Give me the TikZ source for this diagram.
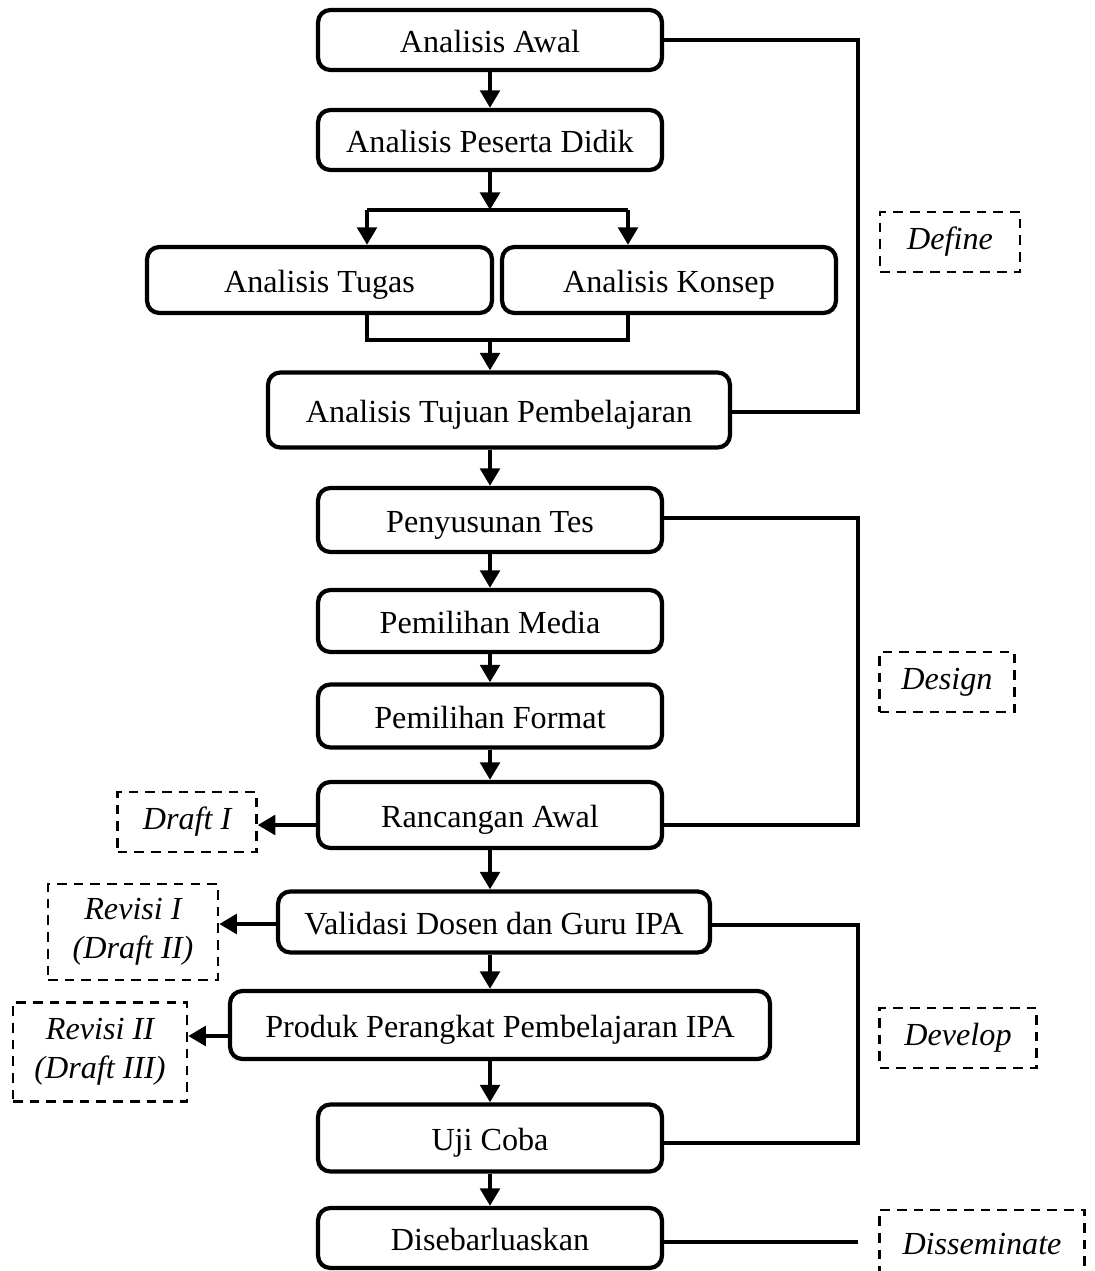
\documentclass[tikz,border=0pt]{standalone}
\usepackage{fontspec}
\setmainfont{Liberation Serif}
\usetikzlibrary{arrows.meta}

\begin{document}
\begin{tikzpicture}[x=0.02cm,y=-0.02cm]
\tikzstyle{every node}+=[font=\fontsize{18.3}{22}\selectfont, inner sep=0pt]
\tikzstyle{tahap}=[draw, line width=2.4pt, rounded corners=7pt, minimum width=6.88cm, minimum height=1.2cm, text height=14pt, text depth=0pt]
\tikzstyle{fase}=[draw, line width=1.4pt, dash pattern=on 5.5pt off 4pt, align=center, font=\fontsize{18.3}{22}\selectfont\itshape]
\tikzstyle{panah}=[line width=2.8pt, -{Triangle[length=10pt,width=11pt]}]
\tikzstyle{garis}=[line width=2.4pt]
\useasboundingbox (0,0) rectangle (1095,1271);
\node [tahap] (aw) at (490,40) {Analisis Awal};
\node [tahap] (pd) at (490,140) {Analisis Peserta Didik};
\node [tahap, minimum width=6.9cm, minimum height=1.32cm] (tg) at (319.5,280) {Analisis Tugas};
\node [tahap, minimum width=6.68cm, minimum height=1.32cm] (ks) at (669,280) {Analisis Konsep};
\node [tahap, minimum width=9.24cm, minimum height=1.5cm] (tj) at (499,410) {Analisis Tujuan Pembelajaran};
\node [tahap, minimum height=1.28cm] (tes) at (490,520) {Penyusunan Tes};
\node [tahap, minimum height=1.24cm] (med) at (490,621) {Pemilihan Media};
\node [tahap, minimum height=1.26cm] (fmt) at (490,716) {Pemilihan Format};
\node [tahap, minimum height=1.32cm] (rc) at (490,815) {Rancangan Awal};
\node [tahap, minimum width=8.64cm, minimum height=1.22cm] (val) at (494,922) {Validasi Dosen dan Guru IPA};
\node [tahap, minimum width=10.8cm, minimum height=1.36cm] (prd) at (500,1025) {Produk Perangkat Pembelajaran IPA};
\node [tahap, minimum height=1.34cm] (uji) at (490,1138) {Uji Coba};
\node [tahap] (sb) at (490,1238) {Disebarluaskan};
\node [fase, minimum width=2.8cm, minimum height=1.2cm] (def) at (950,242) {Define};
\node [fase, minimum width=2.7cm, minimum height=1.2cm] (des) at (947,682) {Design};
\node [fase, minimum width=3.14cm, minimum height=1.2cm] (dev) at (958,1038) {Develop};
\node [fase, minimum width=4.1cm, minimum height=1.36cm] (dis) at (982,1244) {Disseminate};
\node [fase, minimum width=2.78cm, minimum height=1.2cm] (dr1) at (187,822) {Draft I};
\node [fase, minimum width=3.4cm, minimum height=1.92cm] (rv1) at (133,932) {Revisi I\\(Draft II)};
\node [fase, minimum width=3.48cm, minimum height=1.98cm] (rv2) at (100,1052) {Revisi II\\(Draft III)};
\coordinate (bc) at (490,210);
\coordinate (bl) at (367,210);
\coordinate (br) at (628,210);
\coordinate (ml) at (367,340);
\coordinate (mc) at (490,340);
\coordinate (mr) at (628,340);
\coordinate (kanan) at (858,0);
\draw [panah] (aw) -- (pd);
\draw [panah] (pd) -- (bc);
\draw [garis] (bl) -- (br);
\draw [panah] (bl) -- (bl |- tg.north);
\draw [panah] (br) -- (br |- ks.north);
\draw [garis] (bl |- tg.south) -- (ml) -- (mr) -- (br |- ks.south);
\draw [panah] (mc) -- (mc |- tj.north);
\draw [panah] (tes.north |- tj.south) -- (tes);
\draw [panah] (tes) -- (med);
\draw [panah] (med) -- (fmt);
\draw [panah] (fmt) -- (rc);
\draw [panah] (rc) -- (rc.south |- val.north);
\draw [panah] (rc.south |- val.south) -- (rc.south |- prd.north);
\draw [panah] (rc.south |- prd.south) -- (uji);
\draw [panah] (uji) -- (sb);
\draw [panah] ([yshift=-0.2cm]rc.west) -- ([yshift=-0.2cm]rc.west -| dr1.east);
\draw [panah] ([yshift=-0.04cm]val.west) -- ([yshift=-0.04cm]val.west -| rv1.east);
\draw [panah] ([yshift=-0.22cm]prd.west) -- ([yshift=-0.22cm]prd.west -| rv2.east);
\draw [garis] (aw.east) -- (aw.east -| kanan) |- ([yshift=-0.04cm]tj.east);
\draw [garis] ([yshift=0.04cm]tes.east) -- ([yshift=0.04cm]tes.east -| kanan) |- ([yshift=-0.2cm]rc.east);
\draw [garis] ([yshift=-0.06cm]val.east) -- ([yshift=-0.06cm]val.east -| kanan) |- ([yshift=-0.1cm]uji.east);
\draw [garis] ([yshift=-0.08cm]sb.east) -- ([yshift=-0.08cm]sb.east -| kanan);
\end{tikzpicture}
\end{document}
